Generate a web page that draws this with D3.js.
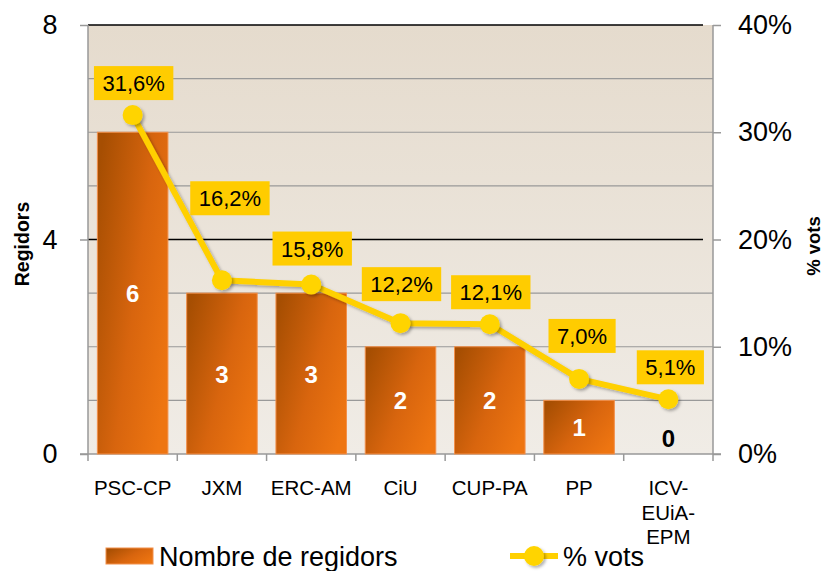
<!DOCTYPE html>
<html>
<head>
<meta charset="utf-8">
<script src="https://cdn.jsdelivr.net/npm/d3@7"></script>
<style>
  body { margin: 0; background: #fff; }
  svg { display: block; font-family: "Liberation Sans", Arial, sans-serif; }
</style>
</head>
<body>
<svg id="chart" width="825" height="571"></svg>
<script>
// data
const parties = ['PSC-CP', 'JXM', 'ERC-AM', 'CiU', 'CUP-PA', 'PP', 'ICV-EUiA-EPM']
const partyLines = [['PSC-CP'], ['JXM'], ['ERC-AM'], ['CiU'], ['CUP-PA'], ['PP'], ['ICV-', 'EUiA-', 'EPM']]
const seats = [6, 3, 3, 2, 2, 1, 0]
const votes = [31.6, 16.2, 15.8, 12.2, 12.1, 7.0, 5.1]
const leftTicks = [0, 4, 8]
const rightTicks = [0, 10, 20, 30, 40]
// vertical nudge of the % labels (Excel moved some of them)
const labelLift = [32, 82, 36, 39, 32, 43, 32]
const labelShift = [1, 8, 1, 1, 1, 3, 2]

const svg = d3.select('#chart')
const pLeft = 88, pRight = 713, pTop = 25, pBottom = 454

const x = d3.scaleBand()
    .domain(parties)
    .range([pLeft, pRight])
    .paddingInner(0.21)
    .paddingOuter(0.105)

const yL = d3.scaleLinear().domain([0, 8]).range([pBottom, pTop])
const yR = d3.scaleLinear().domain([0, 40]).range([pBottom, pTop])

const defs = svg.append('defs')
const bg = defs.append('linearGradient').attr('id', 'bg')
    .attr('x1', 0).attr('y1', 0).attr('x2', 0).attr('y2', 1)
bg.append('stop').attr('offset', '0%').attr('stop-color', '#e5dbcd')
bg.append('stop').attr('offset', '100%').attr('stop-color', '#f0ece6')

const bar = defs.append('linearGradient').attr('id', 'bar')
    .attr('x1', 0).attr('y1', 0.15).attr('x2', 1).attr('y2', 0.75)
bar.append('stop').attr('offset', '0%').attr('stop-color', '#a64e02')
bar.append('stop').attr('offset', '55%').attr('stop-color', '#d8650e')
bar.append('stop').attr('offset', '100%').attr('stop-color', '#ee7511')

const shadow = defs.append('filter').attr('id', 'shadow')
    .attr('x', '-50%').attr('y', '-50%').attr('width', '200%').attr('height', '200%')
shadow.append('feDropShadow').attr('dx', 2).attr('dy', 2).attr('stdDeviation', 1.5)
    .attr('flood-color', '#000').attr('flood-opacity', 0.3)

// plot background
svg.append('rect')
    .attr('x', pLeft).attr('y', pTop)
    .attr('width', pRight - pLeft).attr('height', pBottom - pTop)
    .attr('fill', 'url(#bg)')

// gridlines, one per seat; black at the labelled ticks
svg.append('g').selectAll('line')
    .data(d3.range(1, 9))
    .join('line')
    .attr('x1', pLeft)
    .attr('x2', d => leftTicks.includes(d) ? pRight - 10 : pRight)
    .attr('y1', d => yL(d)).attr('y2', d => yL(d))
    .attr('stroke', d => leftTicks.includes(d) ? '#000' : '#999')
    .attr('stroke-width', d => leftTicks.includes(d) ? 1.3 : 1.2)

// axes
const axisCol = '#999'
svg.append('line').attr('x1', pLeft).attr('x2', pLeft).attr('y1', pTop).attr('y2', pBottom)
    .attr('stroke', axisCol).attr('stroke-width', 1.5)
svg.append('line').attr('x1', pRight).attr('x2', pRight).attr('y1', pTop).attr('y2', pBottom)
    .attr('stroke', axisCol).attr('stroke-width', 1.5)
svg.append('line').attr('x1', pLeft - 8).attr('x2', pRight + 8).attr('y1', pBottom).attr('y2', pBottom)
    .attr('stroke', axisCol).attr('stroke-width', 1.5)

const axL = svg.append('g')
    .attr('transform', `translate(${pLeft},0)`)
    .call(d3.axisLeft(yL).tickValues(leftTicks).tickSize(8).tickPadding(30))
axL.select('.domain').remove()
axL.selectAll('line').attr('stroke', axisCol).attr('stroke-width', 1.5)
axL.selectAll('text').attr('font-size', 27).attr('fill', '#000')
    .attr('font-family', '"Liberation Sans", Arial, sans-serif')
    .attr('text-anchor', 'middle')

const axR = svg.append('g')
    .attr('transform', `translate(${pRight},0)`)
    .call(d3.axisRight(yR).tickValues(rightTicks).tickSize(8).tickPadding(17)
      .tickFormat(d => d + '%'))
axR.select('.domain').remove()
axR.selectAll('line').attr('stroke', axisCol).attr('stroke-width', 1.5)
axR.selectAll('text').attr('font-size', 27).attr('fill', '#000')
    .attr('font-family', '"Liberation Sans", Arial, sans-serif')

// category separators on the bottom axis
const step = x.step()
svg.append('g').selectAll('line')
    .data(d3.range(parties.length + 1))
    .join('line')
    .attr('x1', i => pLeft + i * step).attr('x2', i => pLeft + i * step)
    .attr('y1', pBottom).attr('y2', pBottom + 7)
    .attr('stroke', axisCol).attr('stroke-width', 1.5)

// category labels
svg.append('g').selectAll('text')
    .data(parties)
    .join('text')
    .attr('x', d => x(d) + x.bandwidth() / 2)
    .attr('y', 495)
    .attr('text-anchor', 'middle')
    .attr('font-size', 20.5)
    .selectAll('tspan')
    .data((d, i) => partyLines[i])
    .join('tspan')
    .attr('x', function () { return this.parentNode.getAttribute('x') })
    .attr('dy', (d, i) => i ? 24.5 : 0)
    .text(d => d)

// bars
svg.append('g').selectAll('rect')
    .data(seats)
    .join('rect')
    .attr('x', (d, i) => x(parties[i]))
    .attr('y', d => yL(d))
    .attr('width', x.bandwidth())
    .attr('height', d => pBottom - yL(d))
    .attr('fill', 'url(#bar)')
    .attr('stroke', d => d ? '#f2904a' : 'none')
    .attr('stroke-width', 1)

// seat labels
svg.append('g').selectAll('text')
    .data(seats)
    .join('text')
    .attr('x', (d, i) => x(parties[i]) + x.bandwidth() / 2)
    .attr('y', d => d ? (yL(d) + pBottom) / 2 + 9 : pBottom - 7)
    .attr('text-anchor', 'middle')
    .attr('font-size', 24)
    .attr('font-weight', 'bold')
    .attr('fill', d => d ? '#fff' : '#000')
    .text(d => d)

// vote line
const cx = i => x(parties[i]) + x.bandwidth() / 2
const line = d3.line().x((d, i) => cx(i)).y(d => yR(d))
svg.append('path')
    .datum(votes)
    .attr('d', line)
    .attr('fill', 'none')
    .attr('stroke', '#ffd000')
    .attr('stroke-width', 6)
    .attr('stroke-linejoin', 'round')
    .attr('filter', 'url(#shadow)')

svg.append('g').selectAll('circle')
    .data(votes)
    .join('circle')
    .attr('cx', (d, i) => cx(i))
    .attr('cy', d => yR(d))
    .attr('r', 10)
    .attr('fill', '#ffd400')
    .attr('filter', 'url(#shadow)')

// vote labels in yellow boxes
const fmt = d => d.toFixed(1).replace('.', ',') + '%'
const lab = svg.append('g').selectAll('g')
    .data(votes)
    .join('g')
    .attr('transform', (d, i) => `translate(${cx(i) + labelShift[i]},${yR(d) - labelLift[i]})`)
lab.append('rect')
    .attr('fill', '#ffcc00')
lab.append('text')
    .attr('text-anchor', 'middle')
    .attr('dy', 8)
    .attr('font-size', 22)
    .attr('fill', '#000')
    .text(fmt)
lab.each(function () {
  const g = d3.select(this)
  const w = g.select('text').node().getComputedTextLength() + 17
  g.select('rect').attr('x', -w / 2).attr('y', -17).attr('width', w).attr('height', 34)
})

// axis titles
svg.append('text')
    .attr('transform', 'translate(28.5,244) rotate(-90)')
    .attr('text-anchor', 'middle')
    .attr('font-size', 19.5)
    .attr('font-weight', 'bold')
    .text('Regidors')
svg.append('text')
    .attr('transform', 'translate(820,246) rotate(-90)')
    .attr('text-anchor', 'middle')
    .attr('font-size', 18.5)
    .attr('font-weight', 'bold')
    .text('% vots')

// legend
svg.append('rect')
    .attr('x', 106).attr('y', 548).attr('width', 47).attr('height', 16)
    .attr('fill', 'url(#bar)').attr('stroke', '#f2904a')
svg.append('text')
    .attr('x', 159).attr('y', 566)
    .attr('font-size', 27)
    .text('Nombre de regidors')
svg.append('line')
    .attr('x1', 510).attr('x2', 558).attr('y1', 556).attr('y2', 556)
    .attr('stroke', '#ffd000').attr('stroke-width', 6)
svg.append('circle')
    .attr('cx', 534).attr('cy', 556).attr('r', 10)
    .attr('fill', '#ffd400').attr('filter', 'url(#shadow)')
svg.append('text')
    .attr('x', 563).attr('y', 566)
    .attr('font-size', 27)
    .text('% vots')
</script>
</body>
</html>
